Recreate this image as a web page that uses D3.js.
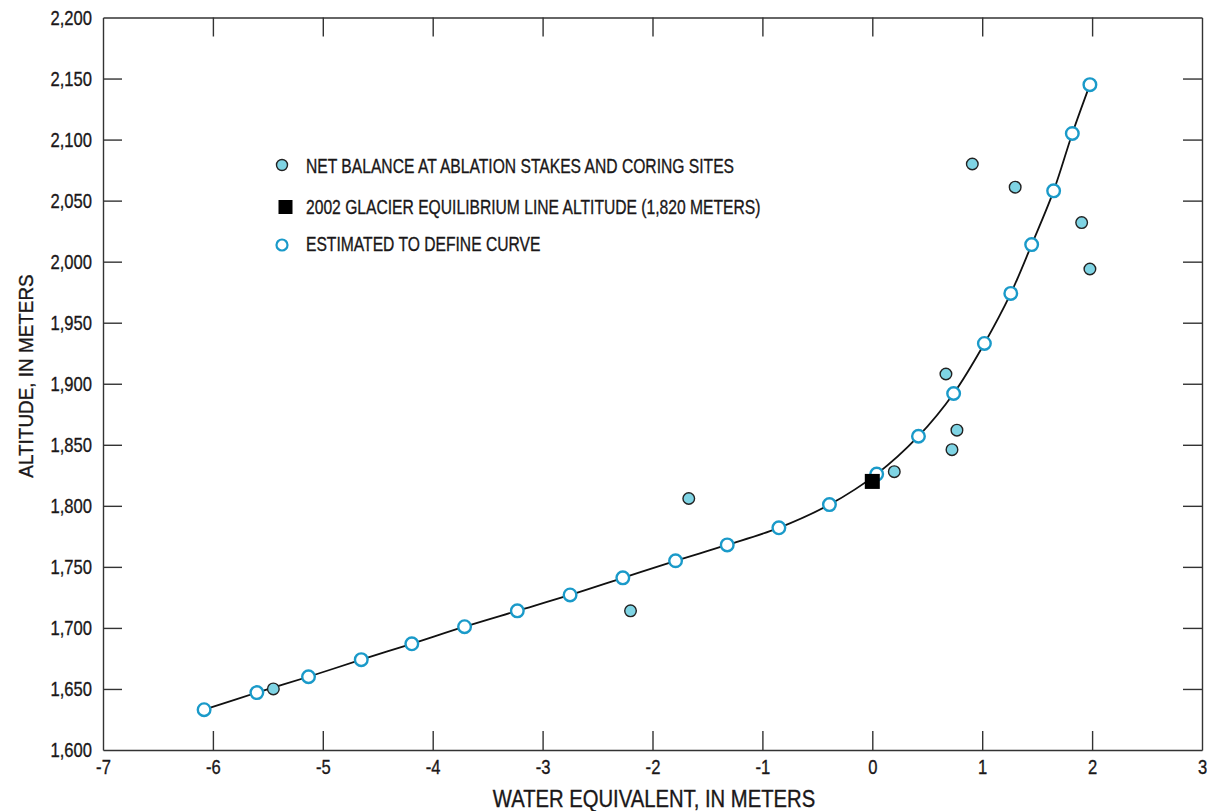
<!DOCTYPE html>
<html>
<head>
<meta charset="utf-8">
<script src="https://cdn.jsdelivr.net/npm/d3@7"></script>
<style>
  html, body { margin: 0; padding: 0; background: #fff; }
  svg text { font-family: "Liberation Sans", Arial, sans-serif; fill: #1a1718; stroke: #1a1718; stroke-width: 0.35px; }
</style>
</head>
<body>
<svg id="chart" width="1207" height="811"></svg>
<script>
// ---- data ----
const curveX = [-6.08, -5.60, -5.13, -4.65, -4.19, -3.71, -3.23, -2.75, -2.27, -1.79, -1.32, -0.85, -0.39, 0.04, 0.42, 0.74, 1.02, 1.26, 1.45, 1.65, 1.82, 1.98];
const curveY = [1633, 1647, 1660, 1674, 1687, 1701, 1714, 1727, 1741, 1755, 1768, 1782, 1801, 1826, 1857, 1892, 1933, 1974, 2014, 2058, 2105, 2145];
const stakeX = [-5.45, -2.20, -1.67, 0.20, 0.67, 0.77, 0.725, 0.91, 1.30, 1.905, 1.98];
const stakeY = [1650, 1714, 1806, 1828, 1908, 1862, 1846, 2080, 2061, 2032, 1994];
const elaX = [0.0];
const elaY = [1820];
const xTicks = [-7, -6, -5, -4, -3, -2, -1, 0, 1, 2, 3];
const yTicks = [1600, 1650, 1700, 1750, 1800, 1850, 1900, 1950, 2000, 2050, 2100, 2150, 2200];
const legendLabels = [
  "NET BALANCE AT ABLATION STAKES AND CORING SITES",
  "2002 GLACIER EQUILIBRIUM LINE ALTITUDE (1,820 METERS)",
  "ESTIMATED TO DEFINE CURVE"
];
const xTitle = "WATER EQUIVALENT, IN METERS";
const yTitle = "ALTITUDE, IN METERS";

// ---- layout ----
const L = 103, R = 1202, T = 17.5, B = 750;
const svg = d3.select("#chart");
const x = d3.scaleLinear().domain([-7, 3]).range([L, R]);
const y = d3.scaleLinear().domain([1600, 2200]).range([B, T]);
const axisColor = "#333";
const tickLen = 19;
const fmt = d3.format(",");

// condensed look: compress glyphs horizontally
function squeeze(sel, k) {
  sel.each(function () {
    const w = this.getComputedTextLength();
    if (w > 0) {
      this.setAttribute("textLength", (w * k).toFixed(2));
      this.setAttribute("lengthAdjust", "spacingAndGlyphs");
    }
  });
}

const gB = svg.append("g").attr("transform", `translate(0,${B})`)
  .call(d3.axisBottom(x).tickValues(xTicks).tickSizeInner(-tickLen).tickSizeOuter(0).tickPadding(9).tickFormat(d => d));
const gT = svg.append("g").attr("transform", `translate(0,${T})`)
  .call(d3.axisTop(x).tickValues(xTicks).tickSizeInner(-tickLen).tickSizeOuter(0).tickFormat(""));
const gL = svg.append("g").attr("transform", `translate(${L},0)`)
  .call(d3.axisLeft(y).tickValues(yTicks).tickSizeInner(-tickLen).tickSizeOuter(0).tickPadding(11).tickFormat(fmt));
const gR = svg.append("g").attr("transform", `translate(${R},0)`)
  .call(d3.axisRight(y).tickValues(yTicks).tickSizeInner(-tickLen).tickSizeOuter(0).tickFormat(""));

[gB, gT, gL, gR].forEach(g => {
  g.select(".domain").attr("stroke", axisColor).attr("stroke-width", 1.4);
  g.selectAll(".tick line").attr("stroke", axisColor).attr("stroke-width", 1.4);
  g.selectAll(".tick text").attr("font-size", 21)
    .style("font-family", '"Liberation Sans", Arial, sans-serif');
});
squeeze(gB.selectAll(".tick text"), 0.79);
squeeze(gL.selectAll(".tick text"), 0.79);
gB.selectAll(".tick").filter(d => d === -7 || d === 3).select("line").remove();
gT.selectAll(".tick").filter(d => d === -7 || d === 3).select("line").remove();
gL.selectAll(".tick").filter(d => d === 1600 || d === 2200).select("line").remove();
gR.selectAll(".tick").filter(d => d === 1600 || d === 2200).select("line").remove();

// axis titles
const xt = svg.append("text").attr("x", 654).attr("y", 807)
  .attr("text-anchor", "middle").attr("font-size", 23).text(xTitle);
squeeze(xt, 0.88);
const yt = svg.append("text").attr("transform", `translate(33,376) rotate(-90)`)
  .attr("text-anchor", "middle").attr("font-size", 21).text(yTitle);
squeeze(yt, 0.9);

// curve
const curvePts = curveX.map((v, i) => [v, curveY[i]]);
svg.append("path").datum(curvePts)
  .attr("fill", "none").attr("stroke", "#111").attr("stroke-width", 1.8)
  .attr("d", d3.line().x(d => x(d[0])).y(d => y(d[1])).curve(d3.curveCatmullRom.alpha(0.5)));

const blue = "#1a9ac9";
const fillBlue = "#7fd4e4";

// estimated points (open circles)
svg.append("g").selectAll("circle").data(curvePts).join("circle")
  .attr("cx", d => x(d[0])).attr("cy", d => y(d[1])).attr("r", 6.3)
  .attr("fill", "#fff").attr("stroke", blue).attr("stroke-width", 2.4);

// ELA square
const elaPts = elaX.map((v, i) => [v, elaY[i]]);
svg.append("g").selectAll("rect").data(elaPts).join("rect")
  .attr("x", d => x(d[0]) - 7.5).attr("y", d => y(d[1]) - 7.5)
  .attr("width", 15).attr("height", 15).attr("fill", "#000");

// stake points (filled circles)
const stakePts = stakeX.map((v, i) => [v, stakeY[i]]);
svg.append("g").selectAll("circle").data(stakePts).join("circle")
  .attr("cx", d => x(d[0])).attr("cy", d => y(d[1])).attr("r", 5.8)
  .attr("fill", fillBlue).attr("stroke", "#222").attr("stroke-width", 1.4);

// legend
const lg = svg.append("g");
lg.append("circle").attr("cx", 282).attr("cy", 165).attr("r", 5.5)
  .attr("fill", fillBlue).attr("stroke", "#222").attr("stroke-width", 1.4);
lg.append("rect").attr("x", 278.5).attr("y", 200).attr("width", 14).attr("height", 14).attr("fill", "#000");
lg.append("circle").attr("cx", 282).attr("cy", 245).attr("r", 5.5)
  .attr("fill", "#fff").attr("stroke", blue).attr("stroke-width", 2.2);
const legBase = [173.3, 214, 251];
legendLabels.forEach((t, i) => {
  const tx = lg.append("text").attr("x", 306).attr("y", legBase[i]).attr("font-size", 21).text(t);
  squeeze(tx, 0.745);
});
</script>
</body>
</html>
